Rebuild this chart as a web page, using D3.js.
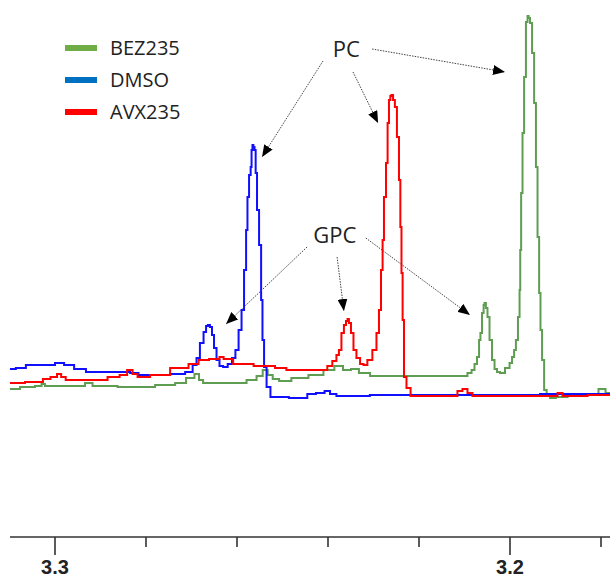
<!DOCTYPE html>
<html>
<head>
<meta charset="utf-8">
<script src="https://cdn.jsdelivr.net/npm/d3@7/dist/d3.min.js"></script>
<style>
  html, body { margin: 0; padding: 0; background: #fff; }
  svg { display: block; }
</style>
</head>
<body>
<svg id="chart" width="610" height="580"></svg>
<script>
// Chemical shift (ppm) and intensity (a.u.) for each spectrum
const dmsoPpm = [3.3099,3.3073,3.3055,3.3011,3.2989,3.2971,3.2945,3.2919,3.2846,3.2824,3.2809,3.2769,3.2725,3.2703,3.2692,3.2686,3.2677,3.2670,3.2666,3.2662,3.2657,3.2653,3.2648,3.2642,3.2635,3.2626,3.2615,3.2607,3.2600,3.2593,3.2587,3.2582,3.2578,3.2576,3.2571,3.2569,3.2567,3.2565,3.2563,3.2560,3.2558,3.2554,3.2549,3.2545,3.2543,3.2538,3.2532,3.2521,3.2451,3.2440,3.2413,3.2402,3.2389,3.2374,3.2242,3.2088,3.1780];
const dmsoInt = [26,27,30,30,32,30,26,23,23,22,20,20,21,23,30,37,52,63,69,70,68,60,47,35,29,28,31,37,45,65,85,125,165,198,220,228,245,250,248,245,222,185,150,95,55,28,8,-2,-3,1,2,4,1,-1,0,0,1];

const avxPpm = [3.3099,3.3033,3.3020,3.3000,3.2991,3.2982,3.2971,3.2901,3.2868,3.2848,3.2835,3.2824,3.2813,3.2769,3.2725,3.2688,3.2681,3.2642,3.2635,3.2624,3.2593,3.2534,3.2499,3.2484,3.2407,3.2396,3.2385,3.2378,3.2374,3.2367,3.2363,3.2358,3.2356,3.2352,3.2347,3.2341,3.2334,3.2325,3.2319,3.2308,3.2297,3.2290,3.2286,3.2281,3.2279,3.2275,3.2270,3.2268,3.2264,3.2262,3.2259,3.2255,3.2251,3.2246,3.2242,3.2240,3.2237,3.2235,3.2231,3.2224,3.2213,3.2121,3.2110,3.2099,3.2088,3.2077,3.1901,3.1890,3.1879,3.1780];
const avxInt = [12,13,16,18,21,18,15,15,18,20,25,21,18,20,27,31,35,36,38,36,31,29,27,25,25,29,34,40,45,62,70,74,76,72,62,45,37,31,30,35,45,62,85,125,155,198,232,272,295,299,300,295,288,258,215,168,122,75,18,7,-1,-1,4,6,2,-1,-1,2,-1,0];

const bezPpm = [3.3099,3.3055,3.3033,3.3026,3.3018,3.2945,3.2923,3.2912,3.2813,3.2747,3.2725,3.2699,3.2688,3.2679,3.2670,3.2593,3.2565,3.2549,3.2538,3.2527,3.2516,3.2499,3.2462,3.2424,3.2396,3.2376,3.2358,3.2341,3.2323,3.2292,3.2099,3.2088,3.2081,3.2075,3.2070,3.2066,3.2064,3.2059,3.2057,3.2055,3.2051,3.2048,3.2042,3.2037,3.2031,3.2026,3.2018,3.2004,3.1998,3.1993,3.1989,3.1985,3.1980,3.1978,3.1977,3.1974,3.1971,3.1967,3.1963,3.1960,3.1958,3.1954,3.1949,3.1945,3.1941,3.1938,3.1934,3.1932,3.1927,3.1923,3.1916,3.1908,3.1890,3.1857,3.1809,3.1802,3.1793,3.1787,3.1780];
const bezInt = [6,8,9,11,9,9,12,9,8,10,12,17,21,15,12,12,15,19,25,20,16,14,17,20,25,29,25,26,22,19,19,22,25,31,38,55,62,82,90,92,87,78,55,35,26,23,22,27,32,38,45,55,78,105,145,202,262,318,373,379,377,372,342,292,228,158,102,65,35,5,-1,-3,-2,0,1,6,6,2,2];

const seriesNames = ["BEZ235", "DMSO", "AVX235"];
const xTicks = [3.3, 3.28, 3.26, 3.24, 3.22, 3.2, 3.18];
const xTickLabels = ["3.3", "", "", "", "", "3.2", ""];

// Peak annotations: label anchor and arrow start/end in (ppm, intensity)
const annotLabels = [
  { text: "PC",  ppm: 3.2360, int: 338 },
  { text: "GPC", ppm: 3.2385, int: 152 }
];
const annotArrows = [
  { from: [3.2411, 334], to: [3.2545, 238] },
  { from: [3.2345, 323], to: [3.2290, 272] },
  { from: [3.2303, 346], to: [3.2011, 323] },
  { from: [3.2446, 148], to: [3.2624, 71] },
  { from: [3.2380, 138], to: [3.2365, 84] },
  { from: [3.2317, 157], to: [3.2088, 80] }
];

const svg = d3.select("#chart");

const x = d3.scaleLinear().domain([3.3, 3.2]).range([55, 510]);
const y = d3.scaleLinear().domain([0, 380]).range([395, 15]);

const lineColors = { BEZ235: "#5f9e52", DMSO: "#1010ff", AVX235: "#ff0000" };
const legendColors = { BEZ235: "#70ad47", DMSO: "#0070c0", AVX235: "#ff0000" };

const traces = {
  BEZ235: bezPpm.map((p, i) => [p, bezInt[i]]),
  DMSO: dmsoPpm.map((p, i) => [p, dmsoInt[i]]),
  AVX235: avxPpm.map((p, i) => [p, avxInt[i]])
};

const line = d3.line()
  .x(d => x(d[0]))
  .y(d => y(d[1]))
  .curve(d3.curveStep);

const plot = svg.append("g");
["BEZ235", "DMSO", "AVX235"].forEach(name => {
  plot.append("path")
    .datum(traces[name])
    .attr("fill", "none")
    .attr("stroke", lineColors[name])
    .attr("stroke-width", 2)
    .attr("stroke-linejoin", "miter")
    .attr("d", line);
});

// x axis: bottom line with major/minor ticks
const axisY = 537;
const axisG = svg.append("g").attr("transform", `translate(0,${axisY})`);
axisG.append("line")
  .attr("x1", 10).attr("x2", 610)
  .attr("stroke", "#333").attr("stroke-width", 1.6);
axisG.selectAll("line.tick")
  .data(xTicks)
  .join("line")
  .attr("class", "tick")
  .attr("x1", d => x(d)).attr("x2", d => x(d))
  .attr("y1", 0)
  .attr("y2", (d, i) => xTickLabels[i] ? 18 : 10)
  .attr("stroke", "#333").attr("stroke-width", 1.6);
axisG.selectAll("text")
  .data(xTicks)
  .join("text")
  .attr("x", d => x(d))
  .attr("y", 37)
  .attr("text-anchor", "middle")
  .attr("font-family", "Liberation Sans, Arial, sans-serif")
  .attr("font-weight", "bold")
  .attr("font-size", 20)
  .attr("fill", "#222")
  .text((d, i) => xTickLabels[i]);

// Legend
const legend = svg.append("g").attr("transform", "translate(65,48)");
seriesNames.forEach((name, i) => {
  const g = legend.append("g").attr("transform", `translate(0,${i * 32})`);
  g.append("rect")
    .attr("x", 0).attr("y", -3)
    .attr("width", 32).attr("height", 6)
    .attr("fill", legendColors[name]);
  g.append("text")
    .attr("x", 45).attr("y", 7)
    .attr("font-family", "Open Sans, sans-serif")
    .attr("font-size", 20)
    .attr("fill", "#222")
    .text(name);
});

// Annotation arrows and labels
const defs = svg.append("defs");
defs.append("marker")
  .attr("id", "arrowhead")
  .attr("viewBox", "0 0 12 10")
  .attr("refX", 12).attr("refY", 5)
  .attr("markerWidth", 12).attr("markerHeight", 10)
  .attr("markerUnits", "userSpaceOnUse")
  .attr("orient", "auto")
  .append("path")
  .attr("d", "M0,0 L12,5 L0,10 Z")
  .attr("fill", "#000");

svg.append("g").selectAll("line")
  .data(annotArrows)
  .join("line")
  .attr("x1", d => x(d.from[0])).attr("y1", d => y(d.from[1]))
  .attr("x2", d => x(d.to[0])).attr("y2", d => y(d.to[1]))
  .attr("stroke", "#444")
  .attr("stroke-width", 1)
  .attr("stroke-dasharray", "1.5,1.2")
  .attr("marker-end", "url(#arrowhead)");

svg.append("g").selectAll("text")
  .data(annotLabels)
  .join("text")
  .attr("x", d => x(d.ppm))
  .attr("y", d => y(d.int))
  .attr("text-anchor", "middle")
  .attr("font-family", "Open Sans, sans-serif")
  .attr("font-size", 22)
  .attr("fill", "#222")
  .text(d => d.text);
</script>
</body>
</html>
